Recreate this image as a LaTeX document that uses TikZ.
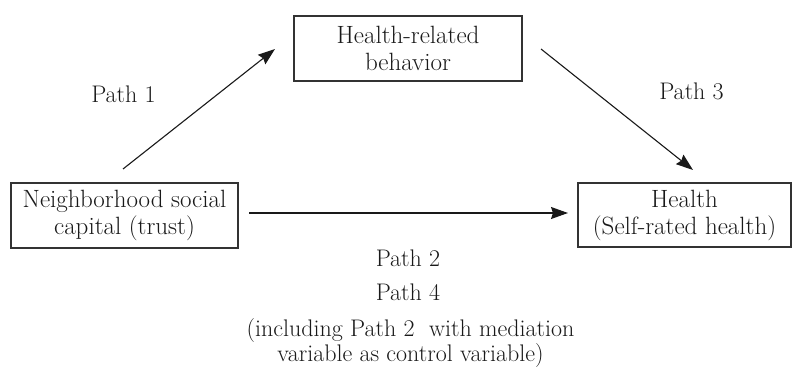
\documentclass[tikz,border=0pt]{standalone}
\usetikzlibrary{arrows.meta}
\begin{document}
\begin{tikzpicture}[x=1pt,y=-1pt,
  every node/.style={font=\fontsize{24}{25}\selectfont, text=black!90},
  box/.style={draw=black!80, line width=1.1pt, inner sep=0pt, align=center, font=\fontsize{25}{27}\selectfont},
  conn/.style={draw=black!90, line width=1.1pt, -{Stealth[length=17pt,width=12pt,inset=2pt]}},
  lbl/.style={inner sep=0pt, align=center}]
\useasboundingbox (0,0) rectangle (792,369);
\node[box, minimum width=228pt, minimum height=65pt] (hrb) at (408,48.5) {Health-related\\behavior};
\node[box, minimum width=227pt, minimum height=65pt] (nsc) at (124.5,215.5) {Neighborhood social\\capital (trust)};
\node[box, minimum width=213pt, minimum height=64pt] (hlt) at (684.5,215) {Health\\(Self-rated health)};
\coordinate (p1s) at (123,169);
\coordinate (p1e) at (275,49);
\coordinate (p3s) at (541,49);
\coordinate (p3e) at (693,170);
\coordinate (p2s) at (249,213);
\coordinate (p2e) at (568,213);
\draw[conn] (p1s) -- (p1e);
\draw[conn] (p3s) -- (p3e);
\draw[conn] (p2s) -- (p2e);
\node[lbl] (l1) at (123.5,94) {Path 1};
\node[lbl] (l3) at (691.5,91) {Path 3};
\node[lbl] (l2) at (408,258) {Path 2};
\node[lbl] (l4) at (408,292) {Path 4};
\node[lbl] (l5) at (410.5,343.5) {(including Path 2\ \ with mediation\\variable as control variable)};
\end{tikzpicture}
\end{document}
